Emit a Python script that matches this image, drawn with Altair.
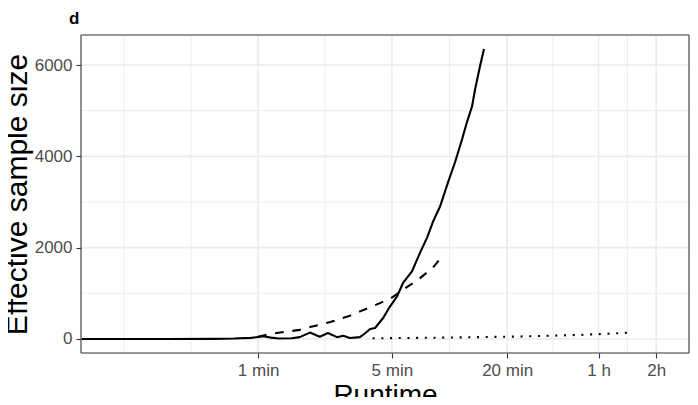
import altair as alt
import pandas as pd

# ---- data (runtime in seconds, effective sample size) ----
solid_t = [7.2, 20, 35, 45, 55, 60, 64, 70, 77, 90, 99, 112, 126, 139, 155, 167, 181, 204, 212,
           231, 245, 270, 293, 319, 343, 382, 421, 458, 492, 535, 589, 641, 697, 740, 787, 816, 866, 908]
solid_ess = [0, 0, 3, 10, 25, 45, 60, 30, 12, 15, 40, 140, 50, 130, 40, 70, 20, 40, 88,
             220, 240, 460, 710, 930, 1230, 1480, 1890, 2220, 2570, 2900, 3430, 3870, 4370, 4750, 5100, 5470, 5980, 6350]

dashed_t = [60, 69, 99, 112, 143, 181, 206, 260, 304, 359, 411, 492, 540]
dashed_ess = [50, 110, 200, 260, 370, 510, 610, 785, 920, 1136, 1297, 1567, 1774]

dotted_t = [238, 500, 1242, 2000, 2988, 4000, 5256]
dotted_ess = [15, 28, 50, 70, 92, 115, 140]

x_tick_values = [60, 300, 1200, 3600, 7200]
x_tick_labels = ["1 min", "5 min", "20 min", "1 h", "2h"]
x_minor = [12, 26.8, 134.2, 600, 2078, 5091]
y_tick_values = [0, 2000, 4000, 6000]
y_minor = [1000, 3000, 5000]

W, H = 608, 318
x_domain = [7.134, 10686]
y_domain = [-307, 6657]

FONT = "Liberation Sans"

df = pd.concat([
    pd.DataFrame({"t": solid_t, "ess": solid_ess, "series": "solid"}),
    pd.DataFrame({"t": dashed_t, "ess": dashed_ess, "series": "dashed"}),
    pd.DataFrame({"t": dotted_t, "ess": dotted_ess, "series": "dotted"}),
])

label_expr = " : ".join(
    [f"datum.value == {v} ? '{l}'" for v, l in zip(x_tick_values, x_tick_labels)]
) + " : ''"

xscale = alt.Scale(type="log", domain=x_domain, nice=False, zero=False)
yscale = alt.Scale(domain=y_domain, nice=False, zero=False)

x_axis = alt.Axis(values=x_tick_values, labelExpr=label_expr, title="Runtime",
                  titleY=50, titleBaseline="alphabetic", titleFontSize=28,
                  titleFontWeight="normal", titleColor="black", titleFont=FONT,
                  labelPadding=4)
y_axis = alt.Axis(values=y_tick_values, format="d", title="Effective sample size",
                  titleX=-55, titleBaseline="alphabetic", titleFontSize=30,
                  titleFontWeight="normal", titleColor="black", titleFont=FONT,
                  labelPadding=4)

grid_major_x = alt.Chart(pd.DataFrame({"v": x_tick_values})).mark_rule(
    color="#EBEBEB", strokeWidth=1.6).encode(x=alt.X("v:Q", scale=xscale, axis=x_axis))
grid_minor_x = alt.Chart(pd.DataFrame({"v": x_minor})).transform_filter(
    f"datum.v > {x_domain[0]}").mark_rule(
    color="#EBEBEB", strokeWidth=0.9).encode(x=alt.X("v:Q", scale=xscale, axis=x_axis))
grid_major_y = alt.Chart(pd.DataFrame({"v": y_tick_values})).mark_rule(
    color="#EBEBEB", strokeWidth=1.6).encode(y=alt.Y("v:Q", scale=yscale, axis=y_axis))
grid_minor_y = alt.Chart(pd.DataFrame({"v": y_minor})).mark_rule(
    color="#EBEBEB", strokeWidth=0.9).encode(y=alt.Y("v:Q", scale=yscale, axis=y_axis))

base = alt.Chart(df)

def line(series, dash):
    kw = dict(color="black", strokeWidth=2.1, strokeCap="butt", strokeJoin="round")
    if dash:
        kw["strokeDash"] = dash
    return base.transform_filter(f"datum.series == '{series}'").mark_line(**kw).encode(
        x=alt.X("t:Q", scale=xscale, axis=x_axis),
        y=alt.Y("ess:Q", scale=yscale, axis=y_axis),
        order="t:Q",
    )

# panel border drawn as four rules on the plot edges
border = alt.Chart(pd.DataFrame({"k": [0]})).mark_rule(color="#333333", strokeWidth=1.1)
border_top = border.encode(x=alt.value(0), x2=alt.value(W), y=alt.value(0))
border_bottom = border.encode(x=alt.value(0), x2=alt.value(W), y=alt.value(H))
border_left = border.encode(x=alt.value(0), y=alt.value(0), y2=alt.value(H))
border_right = border.encode(x=alt.value(W), y=alt.value(0), y2=alt.value(H))

panel_label = alt.Chart(pd.DataFrame({"lab": ["d"]})).mark_text(
    font=FONT, fontSize=17, fontWeight="bold", color="black",
    align="left", baseline="alphabetic"
).encode(text="lab:N", x=alt.value(-12), y=alt.value(-11.5))

chart = alt.layer(
    grid_minor_x, grid_minor_y, grid_major_x, grid_major_y,
    line("solid", None), line("dashed", [8.7, 8.7]), line("dotted", [2, 6.7]),
    border_top, border_bottom, border_left, border_right, panel_label,
).properties(
    width=W, height=H,
    background="white",
    autosize=alt.AutoSizeParams(type="none"),
    padding={"left": 73, "top": 27, "right": 1, "bottom": 44},
).configure_view(
    stroke=None
).configure_axis(
    domain=False, grid=False, ticks=True, tickColor="#333333", tickSize=5, tickWidth=1.1,
    labelColor="#4D4D4D", labelFont=FONT, labelFontSize=17,
)

chart.save("out.html", embed_options={"renderer": "svg", "actions": False})
